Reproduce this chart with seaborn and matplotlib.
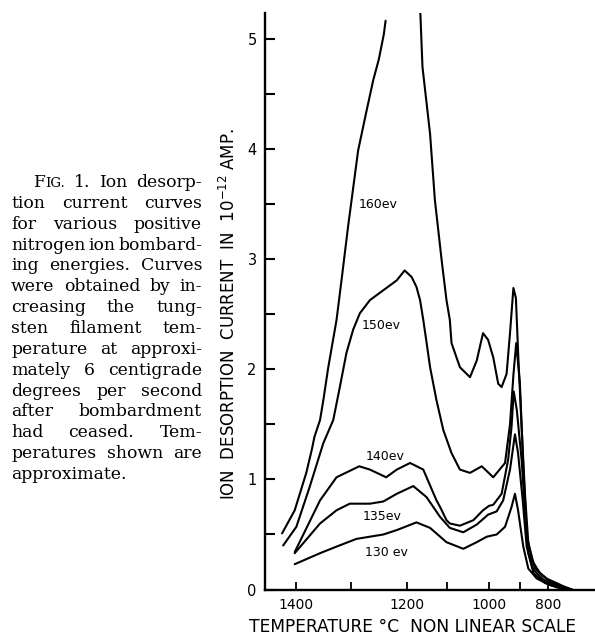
import numpy as np
import pandas as pd
import matplotlib
matplotlib.use("Agg")
import matplotlib.pyplot as plt
import seaborn as sns

# ---------------- data (temperature in deg C, current in 1e-12 A) ----------------
t160_left = [1425, 1402, 1381, 1371, 1366, 1356, 1350, 1341, 1326, 1316, 1305, 1287, 1272, 1260, 1250, 1241, 1238]
i160_left = [0.51, 0.72, 1.06, 1.27, 1.39, 1.54, 1.72, 2.02, 2.45, 2.85, 3.30, 3.99, 4.35, 4.63, 4.82, 5.05, 5.17]

t160_right = [1167, 1161, 1142, 1130, 1113, 1101, 1093, 1089, 1069, 1045, 1029, 1014, 1002, 986, 970, 959, 943,
              932, 921, 913, 905, 894, 882, 870, 846, 805, 745, 714]
i160_right = [5.30, 4.75, 4.14, 3.54, 2.99, 2.63, 2.45, 2.24, 2.02, 1.93, 2.08, 2.33, 2.27, 2.11, 1.87, 1.84, 1.96,
              2.33, 2.74, 2.65, 2.10, 1.48, 0.87, 0.42, 0.19, 0.10, 0.03, 0.0]

t150 = [1423, 1399, 1375, 1350, 1332, 1320, 1308, 1296, 1284, 1266, 1242, 1218, 1204, 1188, 1176, 1167, 1159,
        1151, 1142, 1126, 1109, 1089, 1069, 1045, 1017, 986, 948, 932, 921, 912, 900, 888, 876, 858, 829, 793, 746, 714]
i150 = [0.40, 0.57, 0.93, 1.33, 1.54, 1.84, 2.15, 2.36, 2.51, 2.63, 2.72, 2.81, 2.90, 2.84, 2.75, 2.63, 2.45,
        2.25, 2.02, 1.72, 1.45, 1.24, 1.09, 1.06, 1.12, 1.02, 1.15, 1.50, 1.95, 2.24, 1.87, 1.12, 0.51, 0.27, 0.15,
        0.07, 0.02, 0.0]

t140 = [1402, 1356, 1326, 1285, 1266, 1237, 1218, 1192, 1159, 1126, 1117, 1101, 1093, 1069, 1037, 1014, 1000,
        986, 959, 938, 927, 920, 910, 894, 882, 870, 852, 816, 769, 729]
i140 = [0.34, 0.81, 1.02, 1.12, 1.09, 1.02, 1.09, 1.15, 1.09, 0.81, 0.75, 0.63, 0.60, 0.58, 0.63, 0.72, 0.76,
        0.77, 0.87, 1.18, 1.48, 1.80, 1.63, 1.18, 0.72, 0.33, 0.18, 0.09, 0.03, 0.0]

t135 = [1402, 1356, 1326, 1302, 1266, 1242, 1218, 1184, 1151, 1117, 1093, 1061, 1029, 1002, 975, 954, 932, 916,
        906, 890, 876, 852, 811, 769, 736]
i135 = [0.33, 0.60, 0.72, 0.78, 0.78, 0.80, 0.87, 0.94, 0.84, 0.66, 0.56, 0.52, 0.59, 0.68, 0.71, 0.81, 1.09, 1.41,
        1.24, 0.81, 0.39, 0.15, 0.06, 0.02, 0.0]

t130 = [1402, 1356, 1326, 1290, 1266, 1242, 1218, 1176, 1142, 1101, 1061, 1029, 1005, 975, 948, 927, 916, 906,
        888, 870, 840, 793, 745, 721]
i130 = [0.23, 0.33, 0.39, 0.46, 0.48, 0.50, 0.54, 0.61, 0.56, 0.43, 0.37, 0.43, 0.48, 0.50, 0.57, 0.75, 0.87, 0.72,
        0.39, 0.19, 0.10, 0.04, 0.01, 0.0]

curve_labels = ["160ev", "150ev", "140ev", "135ev", "130 ev"]
label_temps = [1251, 1245, 1239, 1244, 1236]
label_currents = [3.50, 2.40, 1.21, 0.66, 0.34]

x_major = [1400, 1200, 1000, 800]
x_minor = [1300, 1100, 900]
y_major = [0, 1, 2, 3, 4, 5]
y_minor = [0.5, 1.5, 2.5, 3.5, 4.5]

caption_lines = [
    "FIG. 1. Ion desorp-",
    "tion current curves",
    "for various positive",
    "nitrogen ion bombard-",
    "ing energies. Curves",
    "were obtained by in-",
    "creasing the tung-",
    "sten filament tem-",
    "perature at approxi-",
    "mately 6 centigrade",
    "degrees per second",
    "after bombardment",
    "had ceased. Tem-",
    "peratures shown are",
    "approximate.",
]

# ---------------- long table ----------------
segments = [
    ("160a", t160_left, i160_left),
    ("160b", t160_right, i160_right),
    ("150", t150, i150),
    ("140", t140, i140),
    ("135", t135, i135),
    ("130", t130, i130),
]
rows = []
for seg, ts, cs in segments:
    for k, (t, c) in enumerate(zip(ts, cs)):
        rows.append({"segment": seg, "order": k, "temp": t, "current": c})
df = pd.DataFrame(rows)

# ---------------- figure ----------------
sns.set_theme(style="white")
plt.rcParams["font.family"] = ["DejaVu Sans"]

W, H = 595, 635
fig = plt.figure(figsize=(W / 100, H / 100), dpi=100)
fig.patch.set_facecolor("white")
ax = fig.add_axes([265 / W, 1 - 589.5 / H, 330 / W, (589.5 - 13) / H])
ax.set_facecolor("white")

# non linear temperature scale (as in the original)
T_KNOTS = np.array([600, 700, 800, 900, 1000, 1100, 1200, 1300, 1400, 1460], dtype=float)
U_KNOTS = -np.array([604, 576, 548, 520, 489, 447, 407, 351, 296, 263], dtype=float)


def fwd(t):
    return np.interp(np.asarray(t, dtype=float), T_KNOTS, U_KNOTS)


def inv(u):
    return np.interp(np.asarray(u, dtype=float), U_KNOTS, T_KNOTS)


ax.set_xscale("function", functions=(fwd, inv))

sns.lineplot(data=df, x="temp", y="current", units="segment", estimator=None, sort=False,
             color="black", linewidth=1.5, ax=ax, legend=False)

ax.set_xlim(1456, 632)
ax.set_ylim(0, 5.24)

for lab, t, c in zip(curve_labels, label_temps, label_currents):
    ax.text(t, c, lab, fontsize=9, ha="center", va="center", color="black")

ax.set_xticks(x_major)
ax.set_xticklabels([str(v) for v in x_major])
ax.set_xticks(x_minor, minor=True)
ax.set_yticks(y_major)
ax.set_yticklabels([str(v) for v in y_major])
ax.set_yticks(y_minor, minor=True)
ax.tick_params(axis="x", which="both", direction="in", length=5.5, width=1.3, pad=6,
               labelsize=10, colors="black", bottom=True)
ax.tick_params(axis="y", which="both", direction="in", length=7, width=1.5, pad=6,
               labelsize=10.5, colors="black", left=True)

for side in ["top", "right"]:
    ax.spines[side].set_visible(False)
for side in ["left", "bottom"]:
    ax.spines[side].set_color("black")
    ax.spines[side].set_linewidth(1.7)

ax.set_xlabel("")
ax.set_ylabel("")
fig.text(413 / W, 1 - 627 / H, "TEMPERATURE °C  NON LINEAR SCALE", fontsize=12.3,
         ha="center", va="center", color="black")
fig.text(228.5 / W, 1 - 314 / H, r"ION  DESORPTION  CURRENT  IN  10$^{-12}$ AMP.", fontsize=12,
         rotation=90, ha="center", va="center", color="black")

# ---------------- caption (justified) ----------------
renderer = fig.canvas.get_renderer()
CAP_FS = 12.4
CAP_FONT = "DejaVu Serif"
left_edge, right_edge = 11, 202
base0, step = 187, 20.85
MIN_GAP = 3.0


def draw_piece(x, y, s, size):
    t = fig.text(x / W, 1 - y / H, s, fontsize=size, family=CAP_FONT, ha="left", va="baseline", color="black")
    return t.get_window_extent(renderer).width


def measure(s, size):
    t = fig.text(0, 0, s, fontsize=size, family=CAP_FONT)
    w = t.get_window_extent(renderer).width
    t.remove()
    return w


def word_width(w, size):
    if w == "FIG.":
        return measure("F", size) + measure("IG.", size * 0.78)
    return measure(w, size)


space_w = measure("a a", CAP_FS) - measure("aa", CAP_FS)

for i, line in enumerate(caption_lines):
    y = base0 + step * i
    words = line.split(" ")
    L = 33 if i == 0 else left_edge
    last = i == len(caption_lines) - 1
    size = CAP_FS
    widths = [word_width(w, size) for w in words]
    if not last:
        avail = right_edge - L - MIN_GAP * (len(words) - 1)
        if sum(widths) > avail:
            size = size * avail / sum(widths)
            widths = [word_width(w, size) for w in words]
    if last or len(words) == 1:
        gap = space_w
    else:
        gap = (right_edge - L - sum(widths)) / (len(words) - 1)
    x = L
    for w, wd in zip(words, widths):
        if w == "FIG.":
            fw = draw_piece(x, y, "F", size)
            draw_piece(x + fw, y, "IG.", size * 0.78)
        else:
            draw_piece(x, y, w, size)
        x += wd + gap

fig.savefig("out.png", dpi=100, facecolor="white")
